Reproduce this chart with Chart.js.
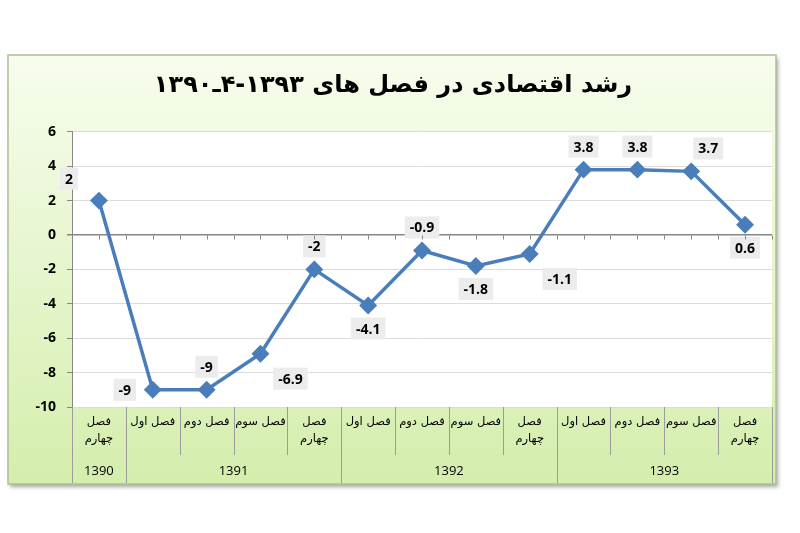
<!DOCTYPE html>
<html>
<head>
<meta charset="utf-8">
<script src="https://cdn.jsdelivr.net/npm/chart.js@4"></script>
<style>
  body { margin: 0; background: #ffffff; }
  canvas { display: block; }
</style>
</head>
<body>
<canvas id="myChart" width="800" height="533"></canvas>
<script>
// داده ها
const categories = [
    ['فصل', 'چهارم'],
    'فصل اول', 'فصل دوم', 'فصل سوم', ['فصل', 'چهارم'],
    'فصل اول', 'فصل دوم', 'فصل سوم', ['فصل', 'چهارم'],
    'فصل اول', 'فصل دوم', 'فصل سوم', ['فصل', 'چهارم'],
];
const growth = [2, -9, -9, -6.9, -2, -4.1, -0.9, -1.8, -1.1, 3.8, 3.8, 3.7, 0.6];
const years = ['1390', '1391', '1392', '1393'];
const yearSpans = [1, 4, 4, 4];
const yTicks = [-10, -8, -6, -4, -2, 0, 2, 4, 6];
const titleText = 'رشد اقتصادی در فصل های ۱۳۹۳-۴ـ۱۳۹۰';

// where each value label sits around its point
const labelPlace = ['aboveLeft', 'left', 'above', 'belowRight', 'above', 'below', 'above',
    'below', 'belowRight', 'above', 'above', 'aboveRight', 'below'];
const placeOffset = {
    above: [0, -23],
    below: [0, 23],
    left: [-28, 0],
    aboveLeft: [-30, -22],
    aboveRight: [17, -23],
    belowRight: [30, 25],
};

// year group centres and boundaries, in category units
let yearCenters = [];
let yearEdges = [0];
let start = 0;
yearSpans.forEach(function (n) {
    yearCenters.push(start + (n - 1) / 2);
    start += n;
    yearEdges.push(start);
});

const frameBg = {
    id: 'frameBg',
    beforeDraw(chart) {
        const c = chart.ctx;
        const area = chart.chartArea;
        c.save();
        let g = c.createLinearGradient(0, 55, 0, 484);
        g.addColorStop(0, '#f7fdee');
        g.addColorStop(1, '#d4eeac');
        c.shadowColor = 'rgba(0,0,0,0.35)';
        c.shadowOffsetX = 2;
        c.shadowOffsetY = 3;
        c.shadowBlur = 4;
        c.fillStyle = g;
        c.fillRect(8, 55, 768, 429);
        c.shadowColor = 'transparent';
        c.strokeStyle = '#aebf95';
        c.lineWidth = 1.5;
        c.strokeRect(8, 55, 768, 429);
        // plot area
        c.fillStyle = '#ffffff';
        c.fillRect(area.left, area.top, area.right - area.left, area.bottom - area.top);
        c.restore();
    },
    afterDraw(chart) {
        const c = chart.ctx;
        const x = chart.scales.x;
        const y = chart.scales.y;
        const yr = chart.scales.years;
        c.save();
        c.strokeStyle = '#9c9c9c';
        c.lineWidth = 1;
        // separators in the label table
        for (let k = 0; k <= categories.length; k++) {
            const px = Math.round(x.getPixelForValue(k - 0.5)) + 0.5;
            const full = yearEdges.indexOf(k) >= 0;
            c.beginPath();
            c.moveTo(px, x.top);
            c.lineTo(px, full ? yr.bottom : x.bottom - 2);
            c.stroke();
        }
        // small ticks along the zero line
        const y0 = Math.round(y.getPixelForValue(0)) + 0.5;
        c.strokeStyle = '#868686';
        for (let k = 0; k <= categories.length * 2; k++) {
            const px = Math.round(x.getPixelForValue(k / 2 - 0.5)) + 0.5;
            c.beginPath();
            c.moveTo(px, y0);
            c.lineTo(px, y0 + 4);
            c.stroke();
        }
        c.restore();
    },
    afterDatasetsDraw(chart) {
        const c = chart.ctx;
        const meta = chart.getDatasetMeta(0);
        c.save();
        c.font = 'bold 14px "Open Sans"';
        c.textAlign = 'center';
        c.textBaseline = 'middle';
        meta.data.forEach(function (pt, i) {
            const txt = String(growth[i]);
            const off = placeOffset[labelPlace[i]];
            const cx = pt.x + off[0];
            const cy = pt.y + off[1];
            const w = c.measureText(txt).width + 10;
            const h = 22;
            c.fillStyle = '#ececec';
            c.fillRect(cx - w / 2, cy - h / 2, w, h);
            c.fillStyle = '#000000';
            c.fillText(txt, cx, cy + 1);
        });
        c.restore();
    },
};

const ctx = document.getElementById('myChart').getContext('2d');
window.myChart = new Chart(ctx, {
    type: 'line',
    data: {
        labels: categories,
        datasets: [
            {
                label: 'رشد اقتصادی',
                data: growth,
                borderColor: '#4a7ebb',
                backgroundColor: '#4a7ebb',
                borderWidth: 3.5,
                pointStyle: 'rectRot',
                pointRadius: 6.5,
                pointBackgroundColor: '#4a7ebb',
                pointBorderColor: '#4a7ebb',
                tension: 0,
            },
        ],
    },
    options: {
        responsive: false,
        animation: false,
        layout: { padding: { left: 14, right: 28, top: 0, bottom: 50 } },
        plugins: {
            legend: { display: false },
            tooltip: { enabled: false },
            title: {
                display: true,
                text: titleText,
                color: '#000000',
                font: { family: 'DejaVu Sans', size: 24, weight: 'bold', lineHeight: 1.2 },
                padding: { top: 71, bottom: 32 },
            },
        },
        scales: {
            x: {
                type: 'category',
                offset: true,
                weight: 0,
                grid: { display: false, drawTicks: false },
                border: { display: false },
                ticks: {
                    color: '#000000',
                    padding: 6,
                    maxRotation: 0,
                    autoSkip: false,
                    font: { family: 'DejaVu Sans', size: 11.5, lineHeight: 1.5 },
                },
                afterFit: function (scale) {
                    scale.height = 50;
                },
            },
            years: {
                type: 'linear',
                position: 'bottom',
                weight: 1,
                min: -0.5,
                max: categories.length - 0.5,
                grid: { display: false, drawTicks: false },
                border: { display: false },
                afterBuildTicks: function (scale) {
                    scale.ticks = yearCenters.map(function (v) {
                        return { value: v };
                    });
                },
                ticks: {
                    color: '#000000',
                    padding: 6,
                    autoSkip: false,
                    maxRotation: 0,
                    font: { family: 'Open Sans', size: 13 },
                    callback: function (value, index) {
                        return years[index];
                    },
                },
                afterFit: function (scale) {
                    scale.height = 26;
                },
            },
            y: {
                min: -10,
                max: 6,
                afterBuildTicks: function (scale) {
                    scale.ticks = yTicks.map(function (v) {
                        return { value: v };
                    });
                },
                grid: {
                    color: function (c) {
                        return c.tick && c.tick.value === 0 ? '#868686' : '#dcdcdc';
                    },
                    lineWidth: function (c) {
                        return c.tick && c.tick.value === 0 ? 1.5 : 1;
                    },
                    tickColor: '#868686',
                    tickLength: 5,
                },
                border: { color: '#868686', width: 1 },
                ticks: {
                    color: '#000000',
                    padding: 11,
                    font: { family: 'Open Sans', size: 14, weight: 'bold' },
                },
                afterFit: function (scale) {
                    scale.width = 58;
                },
            },
        },
    },
    plugins: [frameBg],
});
</script>
</body>
</html>
